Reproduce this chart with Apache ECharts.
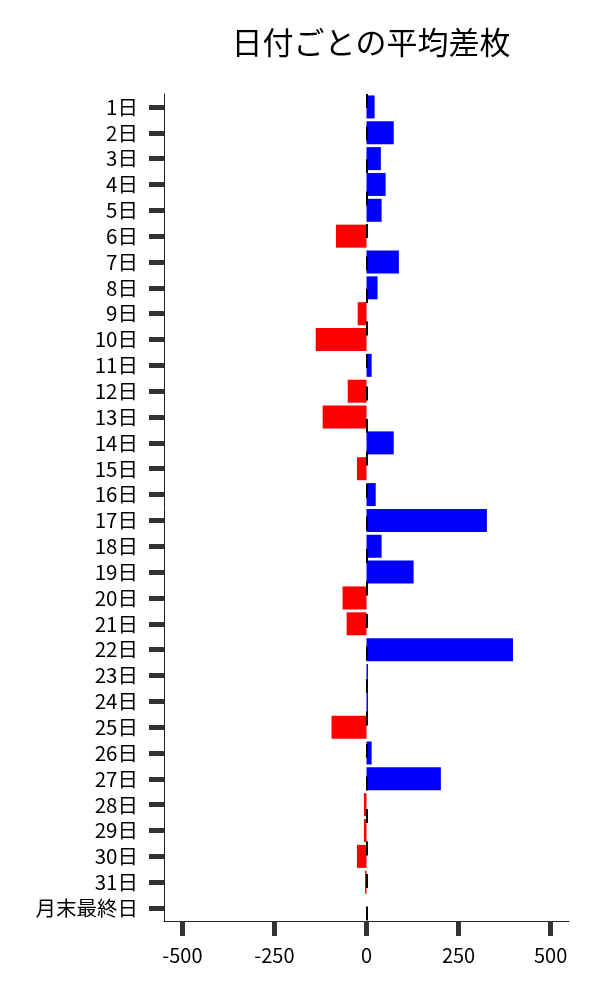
<!DOCTYPE html>
<html>
<head>
<meta charset="utf-8">
<script src="https://cdn.jsdelivr.net/npm/echarts@6/dist/echarts.min.js"></script>
<style>
html,body{margin:0;padding:0;background:#fff;}
#chart{width:600px;height:1000px;}
</style>
</head>
<body>
<div id="chart"></div>
<script>
const titleText = '日付ごとの平均差枚';
const categories = ['1日','2日','3日','4日','5日','6日','7日','8日','9日','10日','11日','12日','13日','14日','15日','16日','17日','18日','19日','20日','21日','22日','23日','24日','25日','26日','27日','28日','29日','30日','31日','月末最終日'];
const values = [22, 74, 39, 52, 41, -83, 88, 30, -24, -138, 14, -51, -119, 74, -26, 25, 327, 41, 128, -65, -54, 398, 4, 4, -95, 14, 202, -7, -7, -26, -4, 0];
const xTicks = [-500, -250, 0, 250, 500];

const FONT = '"Noto Sans CJK JP", "Noto Sans", sans-serif';
const chart = echarts.init(document.getElementById('chart'));
chart.setOption({
  animation: false,
  backgroundColor: '#fff',
  title: {
    text: titleText,
    left: 366, top: 22, textAlign: 'center',
    textStyle: { fontFamily: FONT, fontSize: 31, fontWeight: 'normal', color: '#000' }
  },
  grid: { left: 164, right: 31, top: 94, bottom: 79, containLabel: false },
  xAxis: {
    type: 'value', min: -550, max: 550,
    axisLine: { show: true, onZero: false, lineStyle: { color: '#222', width: 1 } },
    axisTick: { show: true, customValues: xTicks, length: 15, lineStyle: { color: '#333', width: 5 } },
    axisLabel: { customValues: xTicks, margin: 24, fontFamily: FONT, fontSize: 20, color: '#000' },
    splitLine: { show: false }
  },
  yAxis: {
    type: 'category', data: categories, inverse: true,
    axisLine: { show: true, onZero: false, lineStyle: { color: '#222', width: 1 } },
    axisTick: { show: true, interval: 0, alignWithLabel: true, length: 15, lineStyle: { color: '#333', width: 5 } },
    axisLabel: { interval: 0, margin: 26, fontFamily: FONT, fontSize: 20.5, color: '#000' },
    splitLine: { show: false }
  },
  series: [{
    type: 'bar',
    data: values.map(v => ({ value: v, itemStyle: { color: v >= 0 ? '#0000ff' : '#ff0000' } })),
    barCategoryGap: '11%',
    markLine: {
      silent: true, symbol: 'none', label: { show: false },
      lineStyle: { color: '#000', width: 2, type: [14, 18.5] },
      data: [{ xAxis: 0 }]
    }
  }]
});
</script>
</body>
</html>
